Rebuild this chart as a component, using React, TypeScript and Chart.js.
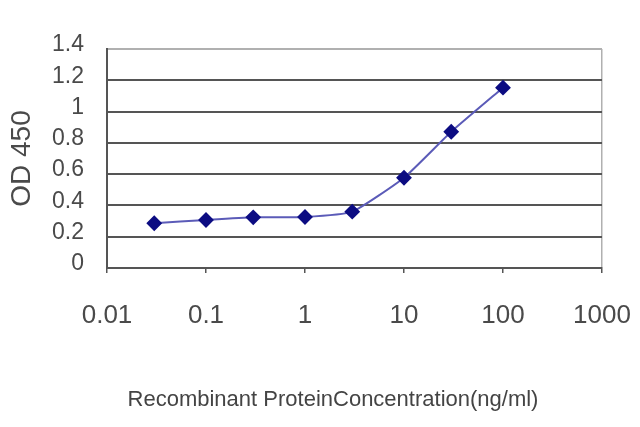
import React, { useEffect, useRef } from "react";
import { Chart, registerables } from "chart.js";

Chart.register(...registerables);

const concentrations = [0.03, 0.1, 0.3, 1, 3, 10, 30, 100];
const odValues = [0.286, 0.307, 0.324, 0.326, 0.36, 0.577, 0.871, 1.153];
const xTickValues = [0.01, 0.1, 1, 10, 100, 1000];
const xTickLabels = ["0.01", "0.1", "1", "10", "100", "1000"];
const yTitle = "OD 450";
const xTitle = "Recombinant ProteinConcentration(ng/ml)";

const SANS = "'Liberation Sans', Arial, sans-serif";

const xTitlePlugin = {
  id: "xTitlePlugin",
  afterDraw(chart: any) {
    const ctx = chart.ctx;
    ctx.save();
    ctx.font = `22px ${SANS}`;
    ctx.fillStyle = "#444";
    ctx.textAlign = "center";
    ctx.textBaseline = "middle";
    ctx.fillText(xTitle, 333, 400);
    ctx.restore();
  },
};

export default function App() {
  const ref = useRef<HTMLCanvasElement | null>(null);
  useEffect(() => {
    document.body.style.margin = "0";
    if (!ref.current) return;
    const chart = new Chart(ref.current, {
      type: "line",
      data: {
        datasets: [
          {
            data: concentrations.map((c, i) => ({ x: c, y: odValues[i] })),
            borderColor: "#5b5bb8",
            borderWidth: 2,
            backgroundColor: "#0c0c82",
            pointBackgroundColor: "#0c0c82",
            pointBorderColor: "#0c0c82",
            pointStyle: "rectRot",
            pointRadius: 6.5,
            tension: 0.15,
            fill: false,
          },
        ],
      },
      options: {
        animation: false,
        responsive: true,
        maintainAspectRatio: false,
        layout: { padding: { left: 0, top: 49, right: 38, bottom: 0 } },
        plugins: { legend: { display: false }, tooltip: { enabled: false }, title: { display: false } },
        scales: {
          x: {
            type: "logarithmic",
            min: 0.01,
            max: 1000,
            afterBuildTicks: (scale: any) => {
              scale.ticks = xTickValues.map((v) => ({ value: v }));
            },
            afterFit: (scale: any) => {
              scale.height = 159;
              scale.paddingLeft = 0;
              scale.paddingRight = 0;
            },
            ticks: {
              autoSkip: false,
              maxRotation: 0,
              padding: 27,
              color: "#4a4a4a",
              font: { family: SANS, size: 26 },
              callback: (v: any) => {
                const i = xTickValues.indexOf(Number(v));
                return i >= 0 ? xTickLabels[i] : "";
              },
            },
            grid: {
              drawOnChartArea: true,
              drawTicks: true,
              tickLength: 5,
              tickColor: "#555",
              lineWidth: 1.5,
              color: (ctx: any) => (ctx.tick && ctx.tick.value === 1000 ? "#b0b0b0" : "rgba(0,0,0,0)"),
            },
            border: { display: true, color: "#555", width: 2 },
          },
          y: {
            min: 0,
            max: 1.4,
            afterFit: (scale: any) => {
              scale.width = 107;
              scale.paddingTop = 0;
              scale.paddingBottom = 0;
            },
            ticks: {
              autoSkip: false,
              stepSize: 0.2,
              padding: 23,
              labelOffset: -4,
              color: "#4a4a4a",
              font: { family: SANS, size: 23 },
              callback: (v: any) => String(Number(Number(v).toFixed(1))),
            },
            grid: {
              drawTicks: false,
              lineWidth: 2,
              color: (ctx: any) => (ctx.tick && Math.abs(ctx.tick.value - 1.4) < 1e-6 ? "#b0b0b0" : "#555"),
            },
            border: { display: true, color: "#555", width: 2 },
            title: {
              display: true,
              text: yTitle,
              color: "#4a4a4a",
              font: { family: SANS, size: 28 },
              padding: { top: 5, bottom: 0 },
            },
          },
        },
      },
      plugins: [xTitlePlugin],
    } as any);
    return () => chart.destroy();
  }, []);
  return (
    <div style={{ position: "absolute", left: 0, top: 0, width: 640, height: 427 }}>
      <canvas ref={ref} />
    </div>
  );
}
